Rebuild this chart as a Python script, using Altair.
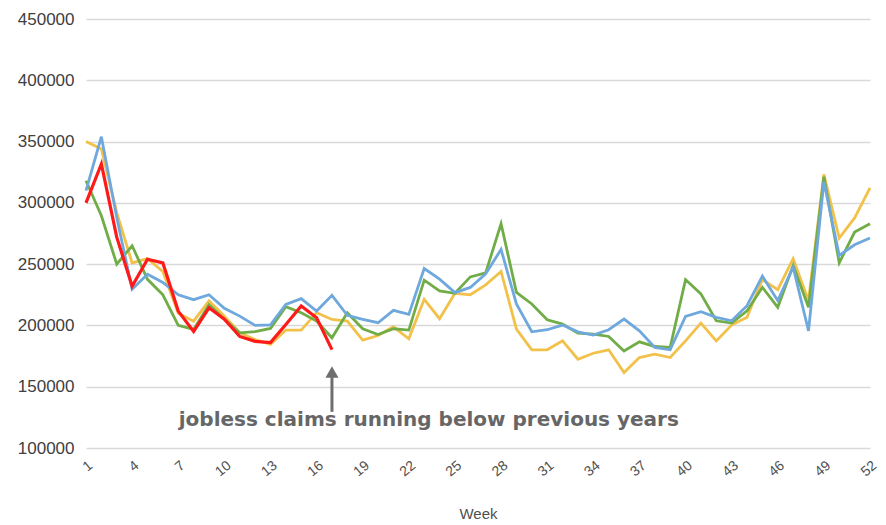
import altair as alt
import pandas as pd

weeks = list(range(1, 53))

yellow = [350000, 344000, 292000, 251000, 254500, 244000, 210000, 203500, 220000, 207600,
          194000, 188500, 184500, 196200, 196200, 210400, 204900, 203600, 188000, 191800,
          198900, 189100, 221300, 205500, 226200, 225000, 233100, 244000, 197000, 180100,
          180100, 187400, 172400, 177300, 180100, 161500, 173800, 176500, 173800, 187400,
          201900, 187400, 200300, 206600, 237400, 229200, 254400, 220200, 323200, 271300,
          287700, 312300]
green = [318000, 289500, 250000, 265000, 237600, 225000, 200000, 196700, 217000, 205000,
         194000, 195000, 197500, 215300, 210400, 203600, 189900, 210400, 197300, 192600,
         197300, 196200, 236900, 228100, 226200, 239600, 242900, 283000, 227000, 217500,
         204600, 201100, 193700, 192900, 191000, 179200, 186600, 182800, 182000, 237400,
         225700, 203800, 201900, 212000, 231100, 214800, 248900, 214800, 321300, 251100,
         276200, 283000]
blue = [310000, 354000, 288000, 229500, 241700, 235000, 225000, 221000, 225000, 214000,
        207600, 200000, 200500, 217200, 221900, 211700, 224600, 208200, 204900, 202200,
        212300, 209000, 246400, 237700, 226800, 231000, 242100, 262000, 217500, 194800,
        196500, 200300, 194800, 192100, 196500, 205200, 195600, 182000, 180100, 207400,
        211200, 206600, 203800, 216100, 240200, 220200, 247500, 195600, 317200, 257100,
        265800, 271300]
red = [300000, 331700, 272000, 232000, 254000, 251000, 211700, 195000, 214400, 205000,
       191000, 187000, 186000, 200800, 215800, 206300, 180300]

series_names = ["Year A", "Year B", "Year C", "Current year"]
series_values = [yellow, green, blue, red]
series_colors = ["#F2C14A", "#70AD47", "#6FA8DC", "#FF1A1A"]
series_widths = [2.8, 2.8, 2.8, 3.2]

x_ticks = list(range(1, 53, 3))
y_ticks = list(range(100000, 450001, 50000))

annotation_text = ["jobless claims running below previous years"]
annotation_week = [23.3]
annotation_value = [122900]
arrow_week = [17]
arrow_bottom = [129500]
arrow_top = [158000]
arrow_head = [162000]

rows = []
for name, vals in zip(series_names, series_values):
    for w, v in zip(weeks, vals):
        rows.append({"series": name, "week": w, "claims": v})
df = pd.DataFrame(rows)

x_scale = alt.Scale(domain=[1, 52], nice=False, zero=False)
y_scale = alt.Scale(domain=[100000, 450000], nice=False, zero=False)

x_axis = alt.Axis(values=x_ticks, title="Week", grid=False, domain=False, ticks=False,
                  labelAngle=-40, labelFont="Liberation Sans", labelFontSize=14,
                  labelColor="#505050", labelPadding=10, titleFont="Liberation Sans",
                  titleFontSize=15, titleFontWeight="normal", titleColor="#505050",
                  titlePadding=28)
y_axis = alt.Axis(values=y_ticks, title=None, format="d", grid=True, gridColor="#d9d9d9",
                  gridWidth=1.5, domain=False, ticks=False, labelFont="Liberation Sans",
                  labelFontSize=17, labelColor="#404040", labelPadding=12)


def X(field):
    return alt.X(field, type="quantitative", scale=x_scale, axis=x_axis)


def Y(field):
    return alt.Y(field, type="quantitative", scale=y_scale, axis=y_axis)


layers = []
for name, color, width in zip(series_names, series_colors, series_widths):
    layers.append(
        alt.Chart(df).transform_filter(alt.datum.series == name)
        .mark_line(color=color, strokeWidth=width, strokeJoin="miter")
        .encode(x=X("week"), y=Y("claims"))
    )

arrow_df = pd.DataFrame({"week": arrow_week, "y1": arrow_bottom, "y2": arrow_top, "head": arrow_head})
arrow_line = alt.Chart(arrow_df).mark_rule(color="#6e6e6e", strokeWidth=3).encode(
    x=X("week"), y=Y("y1"), y2="y2:Q")
arrow_tip = alt.Chart(arrow_df).mark_point(shape="triangle-up", filled=True, color="#6e6e6e",
                                           size=170, opacity=1).encode(
    x=X("week"), y=Y("head"))

text_df = pd.DataFrame({"week": annotation_week, "claims": annotation_value, "label": annotation_text})
annotation = alt.Chart(text_df).mark_text(font="DejaVu Sans", fontWeight="bold", fontSize=20,
                                          color="#666666", align="center", baseline="middle").encode(
    x=X("week"), y=Y("claims"), text="label:N")

chart = alt.layer(*layers, arrow_line, arrow_tip, annotation).properties(
    width=784, height=429,
    background="white",
    autosize=alt.AutoSizeParams(type="none"),
    padding={"left": 78, "top": 11, "right": 8, "bottom": 76},
).configure_view(stroke="transparent", strokeWidth=0)

chart.save("out.html", embed_options={"renderer": "svg", "actions": False})
